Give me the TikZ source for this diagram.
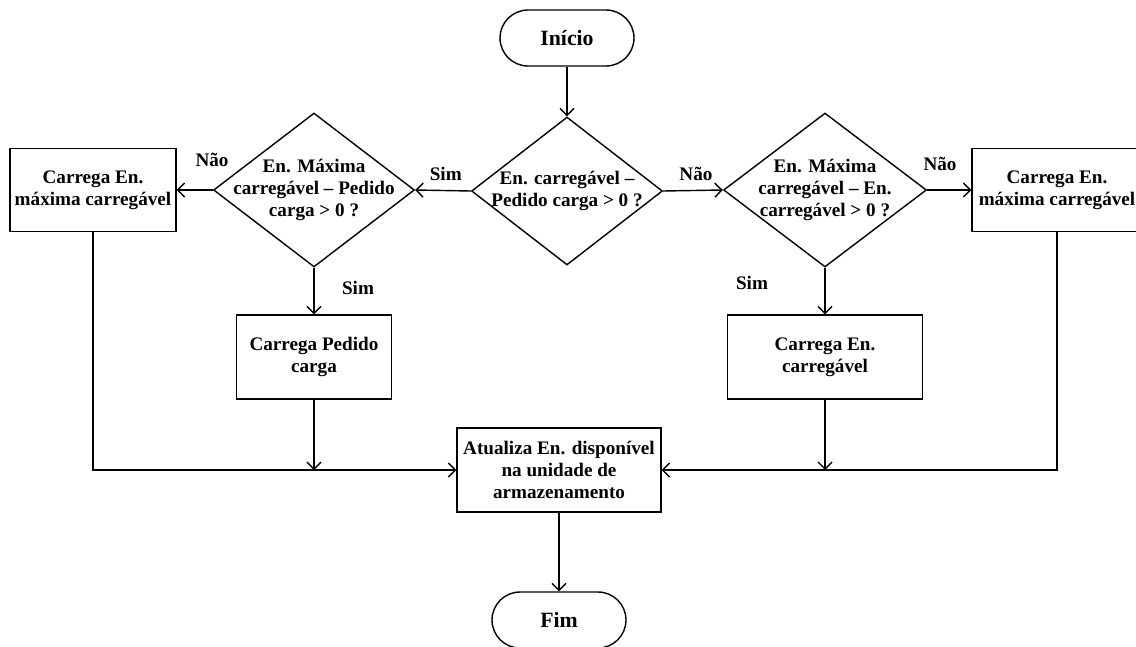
\documentclass[tikz,border=0pt]{standalone}
\usepackage{fontspec}
\setmainfont{Liberation Serif}
\usepackage{tikz}
\usetikzlibrary{arrows.meta,shapes.geometric}

\begin{document}
\begin{tikzpicture}[x=0.02cm, y=-0.02cm, line width=0.8pt,
	every node/.style={font=\fontsize{10.9}{12.4}\selectfont\bfseries, align=center},
	term/.style={draw, rounded corners=0.56cm, minimum width=2.68cm, minimum height=1.12cm, font=\fontsize{12.4}{14}\selectfont\bfseries},
	caixa/.style={draw, inner sep=2pt},
	losango/.style={draw, diamond, inner sep=0pt},
	rotulo/.style={font=\fontsize{10.9}{12.4}\selectfont\bfseries, align=center},
	seta/.style={-{Straight Barb[length=1.4mm,width=2.8mm]}}]
					\useasboundingbox (0,0) rectangle (1136,646);
					\node [term] (ini) at (567,38) {Início};
					\node [losango, minimum width=3.82cm, minimum height=2.96cm, label={[rotulo]center:En. carregável –\\Pedido carga > 0 ?}] (d0) at (567,191) {};
					\node [losango, minimum width=4.02cm, minimum height=3.08cm, label={[rotulo]center:En. Máxima\\carregável – Pedido\\carga > 0 ?}] (desq) at (314,190) {};
					\node [losango, minimum width=4.06cm, minimum height=3.08cm, label={[rotulo]center:En. Máxima\\carregável – En.\\carregável > 0 ?}] (ddir) at (825,190) {};
					\node [caixa, minimum width=3.32cm, minimum height=1.66cm] (cme) at (93,190) {Carrega En.\\máxima carregável};
					\node [caixa, minimum width=3.4cm, minimum height=1.66cm] (cmd) at (1057,190) {Carrega En.\\máxima carregável};
					\node [caixa, minimum width=3.1cm, minimum height=1.68cm] (cpc) at (314,357) {Carrega Pedido\\carga};
					\node [caixa, minimum width=3.9cm, minimum height=1.68cm] (cec) at (825,357) {Carrega En.\\carregável};
					\node [caixa, minimum width=4.08cm, minimum height=1.68cm] (atu) at (559,470) {Atualiza En. disponível\\na unidade de\\armazenamento};
					\node [term] (fim) at (559,620) {Fim};
					\draw [seta] (ini) -- (d0);
					\draw [seta] (d0.west) -- node [above=2pt, pos=0.45] {Sim} (desq.east);
					\draw [seta] (d0.east) -- node [above=2pt, pos=0.55] {Não} (ddir.west);
					\draw [seta] (desq.west) -- (cme.east);
					\node (nesq) at (212,160) {Não};
					\draw [seta] (ddir.east) -- (cmd.west);
					\node (ndir) at (940,164) {Não};
					\draw [seta] (desq.south) -- (cpc.north);
					\node (sesq) at (358,288) {Sim};
					\draw [seta] (ddir.south) -- (cec.north);
					\node (sdir) at (752,283) {Sim};
					\draw [seta] (cme.south) |- (atu.west);
					\draw [seta] (cmd.south) |- (atu.east);
					\draw [seta] (cpc.south) -- (cpc.south |- atu.west);
					\draw [seta] (cec.south) -- (cec.south |- atu.east);
					\draw [seta] (atu) -- (fim);
				\end{tikzpicture}
\end{document}
